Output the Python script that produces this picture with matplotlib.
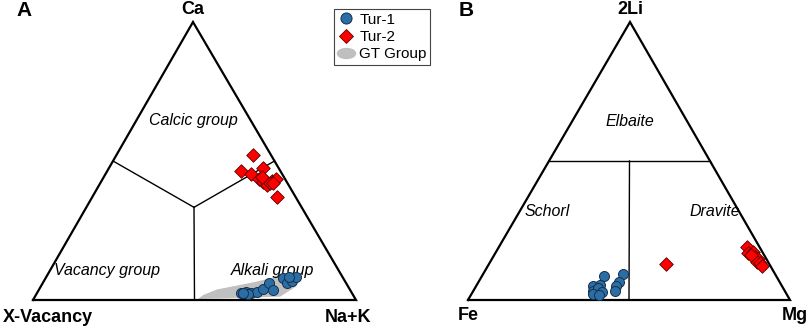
import numpy as np
import matplotlib.pyplot as plt
from matplotlib.lines import Line2D
from matplotlib.path import Path
from matplotlib.transforms import Affine2D

# ---- data (ternary fractions) ----
# Panel A: Ca - X-vacancy - (Na+K)
tur1_a_ca = [0.026, 0.030, 0.026, 0.030, 0.038, 0.062, 0.036, 0.078, 0.060, 0.069, 0.082, 0.084, 0.022, 0.024]
tur1_a_nak = [0.631, 0.645, 0.661, 0.680, 0.694, 0.700, 0.724, 0.736, 0.756, 0.767, 0.773, 0.752, 0.656, 0.639]
tur2_a_ca = [0.522, 0.464, 0.452, 0.476, 0.434, 0.426, 0.414, 0.429, 0.434, 0.422, 0.369, 0.444, 0.420]
tur2_a_nak = [0.424, 0.414, 0.451, 0.477, 0.485, 0.502, 0.520, 0.526, 0.537, 0.525, 0.573, 0.488, 0.536]
gt_ca = [0.004, 0.012, 0.048, 0.080, 0.098, 0.094, 0.078, 0.064, 0.050, 0.038, 0.018]
gt_nak = [0.509, 0.759, 0.790, 0.785, 0.759, 0.720, 0.697, 0.652, 0.598, 0.551, 0.518]

# Panel B: 2Li - Fe - Mg
tur1_b_li = [0.086, 0.092, 0.066, 0.050, 0.033, 0.050, 0.054, 0.032, 0.026, 0.042, 0.030, 0.022, 0.018]
tur1_b_mg = [0.380, 0.436, 0.437, 0.434, 0.440, 0.364, 0.383, 0.371, 0.386, 0.384, 0.400, 0.378, 0.399]
tur2_b_li = [0.128, 0.192, 0.168, 0.174, 0.156, 0.146, 0.138, 0.133, 0.122, 0.162]
tur2_b_mg = [0.550, 0.769, 0.786, 0.799, 0.813, 0.828, 0.827, 0.840, 0.852, 0.797]

W, H = 809, 327
fig = plt.figure(figsize=(W / 100, H / 100), dpi=100)
ax = fig.add_axes([0, 0, 1, 1])
ax.set_xlim(0, W)
ax.set_ylim(H, 0)
ax.axis('off')

# triangle corners in pixels: left, right, top
triA = np.array([[33, 300], [356, 300], [193, 22]], float)
triB = np.array([[468, 300], [790, 300], [630, 22]], float)


def tern(tri, right, top):
    right = np.asarray(right, float)
    top = np.asarray(top, float)
    left = 1 - right - top
    x = left * tri[0, 0] + right * tri[1, 0] + top * tri[2, 0]
    y = left * tri[0, 1] + right * tri[1, 1] + top * tri[2, 1]
    return x, y


def frame(tri):
    pts = np.vstack([tri, tri[:1]])
    ax.plot(pts[:, 0], pts[:, 1], color='black', lw=1.6, zorder=3,
            solid_joinstyle='miter')


def seg(tri, a, b):
    x, y = tern(tri, [a[0], b[0]], [a[1], b[1]])
    ax.plot(x, y, color='black', lw=1.0, zorder=3)


bold = dict(family='Liberation Sans', fontweight='bold', fontsize=13)
ital = dict(family='Liberation Sans', style='italic', fontsize=11.5)
blue = '#2b6ea6'
red = '#ff0000'

# ---- panel A ----
gx, gy = tern(triA, gt_nak, gt_ca)
ax.fill(gx, gy, color='#c0c0c0', lw=0, zorder=2)
frame(triA)
seg(triA, (1 / 3, 1 / 3), (0.5, 0.0))
seg(triA, (1 / 3, 1 / 3), (0.0, 0.5))
seg(triA, (1 / 3, 1 / 3), (0.5, 0.5))

x, y = tern(triA, tur2_a_nak, tur2_a_ca)
ax.scatter(x, y, marker='D', s=48, c=red, edgecolors='#5a0000', linewidths=0.6, zorder=5)
x, y = tern(triA, tur1_a_nak, tur1_a_ca)
ax.scatter(x, y, marker='o', s=52, c=blue, edgecolors='#16304a', linewidths=0.7, zorder=5)

ax.text(193, 9, 'Ca', ha='center', va='center', **bold)
ax.text(48, 318, 'X-Vacancy', ha='center', va='center', **bold)
ax.text(348, 318, 'Na+K', ha='center', va='center', **bold)
ax.text(193, 121, 'Calcic group', ha='center', va='center', **ital)
ax.text(107, 271, 'Vacancy group', ha='center', va='center', **ital)
ax.text(272, 271, 'Alkali group', ha='center', va='center', **ital)
ax.text(24, 11, 'A', ha='center', va='center', family='Liberation Sans',
        fontweight='bold', fontsize=15)

# ---- panel B ----
frame(triB)
seg(triB, (0.0, 0.5), (0.5, 0.5))
seg(triB, (0.5, 0.0), (0.25, 0.5))

x, y = tern(triB, tur2_b_mg, tur2_b_li)
ax.scatter(x, y, marker='D', s=48, c=red, edgecolors='#5a0000', linewidths=0.6, zorder=5)
x, y = tern(triB, tur1_b_mg, tur1_b_li)
ax.scatter(x, y, marker='o', s=52, c=blue, edgecolors='#16304a', linewidths=0.7, zorder=5)

ax.text(630, 9, '2Li', ha='center', va='center', **bold)
ax.text(468, 316, 'Fe', ha='center', va='center', **bold)
ax.text(795, 316, 'Mg', ha='center', va='center', **bold)
ax.text(630, 121, 'Elbaite', ha='center', va='center', **ital)
ax.text(547, 212, 'Schorl', ha='center', va='center', **ital)
ax.text(715, 212, 'Dravite', ha='center', va='center', **ital)
ax.text(466, 11, 'B', ha='center', va='center', family='Liberation Sans',
        fontweight='bold', fontsize=15)

# ---- legend ----
ell = Path.unit_circle().transformed(Affine2D().scale(1.0, 0.55))
handles = [
    Line2D([], [], ls='none', marker='o', ms=8, mfc=blue, mec='#16304a', mew=0.7),
    Line2D([], [], ls='none', marker='D', ms=7, mfc=red, mec='#5a0000', mew=0.6),
    Line2D([], [], ls='none', marker=ell, ms=13, mfc='#bfbfbf', mec='#bfbfbf'),
]
leg = ax.legend(handles, ['Tur-1', 'Tur-2', 'GT Group'], loc='upper left',
                bbox_to_anchor=(334 / W, 1 - 9 / H), bbox_transform=fig.transFigure,
                frameon=True, fancybox=False, framealpha=1, edgecolor='#444444',
                handlelength=1.1, handletextpad=0.3, borderpad=0.25, labelspacing=0.2,
                borderaxespad=0, prop=dict(family='Liberation Sans', size=11))
leg.get_frame().set_linewidth(0.8)

fig.savefig('out.png', dpi=100)
